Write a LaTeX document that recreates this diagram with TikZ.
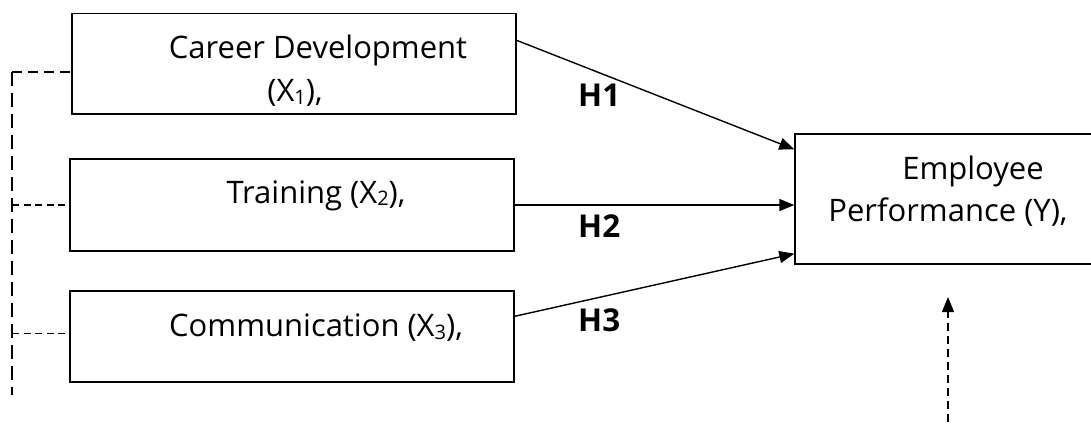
\documentclass[tikz,border=0pt]{standalone}
\usepackage{fontspec}
\setmainfont{Open Sans}
\usetikzlibrary{arrows.meta}
\newcommand{\subdig}[1]{\raisebox{-2.5pt}{\fontsize{20}{20}\selectfont #1}}
\tikzset{
  box/.style={draw, line width=1.4pt, inner sep=0pt},
  lbl/.style={inner sep=0pt, anchor=base, font=\fontsize{31}{38}\selectfont},
  hlbl/.style={inner sep=0pt, anchor=base west, font=\bfseries\fontsize{31.5}{36}\selectfont},
  arr/.style={line width=1.4pt, -{Triangle[length=15pt,width=12pt]}},
  vdash/.style={line width=1.4pt, dash pattern=on 14pt off 7pt},
  hdashA/.style={line width=1.3pt, dash pattern=on 10pt off 6pt},
  hdashB/.style={line width=1.3pt, dash pattern=on 7pt off 4.5pt},
  darr/.style={line width=1.4pt, dash pattern=on 8pt off 5pt, -{Triangle[length=15pt,width=12pt]}}
}
\begin{document}
\begin{tikzpicture}[x=1pt,y=-1pt]
\useasboundingbox (0,0) rectangle (1091,445);
\clip (0,0) rectangle (1091,445);
% boxes
\node[box, minimum width=444pt, minimum height=100.7pt] (b1) at (294,63.7) {};
\node[box, minimum width=444pt, minimum height=92pt] (b2) at (292,205) {};
\node[box, minimum width=444pt, minimum height=91pt] (b3) at (292,336.5) {};
\node[box, minimum width=355pt, minimum height=130pt] (bY) at (972.5,199) {};
% texts
\node[lbl] (t1a) at (318,58) {Career Development};
\node[lbl] (t1b) at (295,101.7) {(X\subdig{1}),};
\node[lbl] (t2) at (316,203) {Training (X\subdig{2}),};
\node[lbl] (t3) at (316,336.7) {Communication (X\subdig{3}),};
\node[lbl] (tYa) at (973,179) {Employee};
\node[lbl] (tYb) at (948,221.7) {Performance (Y),};
% hypothesis labels
\node[hlbl] (h1) at (578,106.5) {H1};
\node[hlbl] (h2) at (578,237) {H2};
\node[hlbl] (h3) at (578,331) {H3};
% arrows
\draw[arr] ([yshift=-27.7pt]b1.north east) -- ([yshift=-16pt]bY.north west);
\draw[arr] (b2.east) -- (b2.east -| bY.west);
\draw[arr] ([yshift=-26pt]b3.north east) -- ([yshift=11pt]bY.south west);
% dashed arrow from below
\coordinate (ds) at (948,422);
\coordinate (de) at (948,297);
\draw[darr] (ds) -- (de);
% left dashed bracket
\coordinate (l1) at ([yshift=-8.3pt]b1.west);
\coordinate (l3) at ([yshift=2.8pt]b3.west);
\coordinate (v1) at (l1 -| 12,0);
\coordinate (v2) at (b2.west -| 12,0);
\coordinate (v3) at (l3 -| 12,0);
\coordinate (vb) at (12,395);
\draw[vdash] (v1) -- (vb);
\draw[hdashA] (v1) -- (l1);
\draw[hdashB] (v2) -- (b2.west);
\draw[hdashB] (v3) -- (l3);
\end{tikzpicture}
\end{document}
